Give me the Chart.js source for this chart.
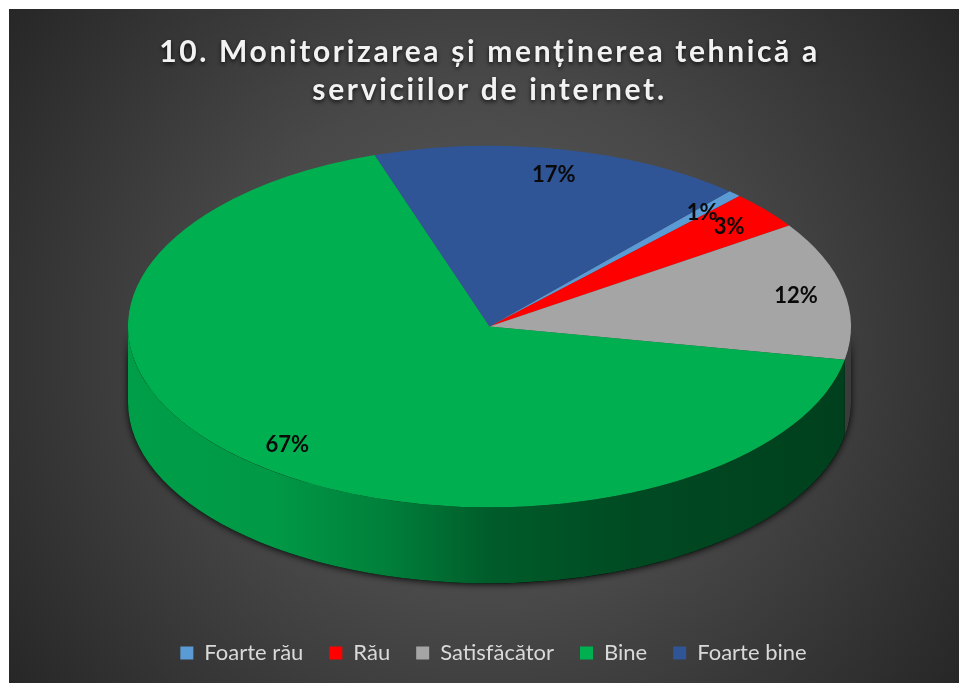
<!DOCTYPE html>
<html>
<head>
<meta charset="utf-8">
<title>Monitorizarea</title>
<script src="https://cdn.jsdelivr.net/npm/chart.js@4"></script>
<style>
  html, body { margin: 0; background: #fff; }
  #box { position: relative; width: 959px; height: 683px; }
</style>
</head>
<body>
<div id="box"><canvas id="myChart"></canvas></div>
<script>
const titleLines = ['10. Monitorizarea și menținerea tehnică a', 'serviciilor de internet.'];
const categories = ['Foarte rău', 'Rău', 'Satisfăcător', 'Bine', 'Foarte bine'];
const values = [0.6, 3.4, 12.4, 66.9, 16.7];
const colors = ['#5B9BD5', '#FF0000', '#A5A5A5', '#00B050', '#2F5597'];

// pie on screen: squashed to an ellipse, with a wall under it
const pieX = 489.5, pieY = 326.5, pieR = 361.5, squash = 0.5, wallH = 76;

function shade(hex, f) {
    const n = parseInt(hex.slice(1), 16);
    const r = Math.round((n >> 16 & 255) * f), g = Math.round((n >> 8 & 255) * f), b = Math.round((n & 255) * f);
    return `rgb(${r},${g},${b})`;
}

function wallPath(ctx, a0, a1) {
    const ry = pieR * squash;
    ctx.beginPath();
    ctx.ellipse(pieX, pieY, pieR, ry, 0, a0, a1);
    ctx.ellipse(pieX, pieY + wallH, pieR, ry, 0, a1, a0, true);
    ctx.closePath();
}

const pie3d = {
    id: 'pie3d',
    afterInit(chart) {
        // only the title gets the wide letter spacing and the shadow
        const t = chart.titleBlock, drawTitle = t.draw;
        t.draw = function () {
            const ctx = chart.ctx;
            ctx.save();
            ctx.letterSpacing = '2.65px';
            ctx.shadowColor = 'rgba(0,0,0,0.75)';
            ctx.shadowBlur = 4;
            ctx.shadowOffsetY = 2;
            drawTitle.call(t);
            ctx.restore();
        };
        // legend sits a little right of the title
        const l = chart.legend, drawLegend = l.draw;
        l.draw = function () {
            const ctx = chart.ctx;
            ctx.save();
            ctx.translate(4, 0);
            drawLegend.call(l);
            ctx.restore();
        };
    },
    beforeDraw(chart) {
        const ctx = chart.ctx;
        ctx.fillStyle = '#fff';
        ctx.fillRect(0, 0, chart.width, chart.height);
        const g = ctx.createRadialGradient(484, 346, 0, 484, 346, 590);
        g.addColorStop(0, '#5c5c5c');
        g.addColorStop(0.45, '#484848');
        g.addColorStop(1, '#262626');
        ctx.fillStyle = g;
        ctx.fillRect(9, 9, chart.width - 9, chart.height - 9);
    },
    beforeDatasetsDraw(chart) {
        const ctx = chart.ctx, arcs = chart.getDatasetMeta(0).data;

        // dark halo under the body
        ctx.save();
        ctx.shadowColor = 'rgba(0,0,0,0.9)';
        ctx.shadowBlur = 7;
        ctx.shadowOffsetY = 1;
        ctx.fillStyle = '#000';
        wallPath(ctx, 0, Math.PI);
        ctx.fill();
        ctx.restore();

        arcs.forEach((arc, i) => {
            const full = Math.PI * 2;
            const s = ((arc.startAngle % full) + full) % full;
            const e = s + (arc.endAngle - arc.startAngle);
            [0, full].forEach(base => {
                const a0 = Math.max(s, base), a1 = Math.min(e, base + Math.PI);
                if (a1 <= a0) return;
                const g = ctx.createLinearGradient(pieX - pieR, 0, pieX + pieR, 0);
                g.addColorStop(0, shade(colors[i], 0.9));
                g.addColorStop(0.2, shade(colors[i], 0.87));
                g.addColorStop(0.36, shade(colors[i], 0.72));
                g.addColorStop(0.5, shade(colors[i], 0.52));
                g.addColorStop(0.7, shade(colors[i], 0.42));
                g.addColorStop(1, shade(colors[i], 0.36));
                ctx.fillStyle = g;
                wallPath(ctx, a0, a1);
                ctx.fill();
            });
        });

        // the library's arcs get drawn through this transform
        const first = arcs[0];
        ctx.save();
        ctx.translate(pieX, pieY);
        ctx.scale(1, squash);
        ctx.translate(-first.x, -first.y);
    },
    afterDatasetsDraw(chart) {
        const ctx = chart.ctx, arcs = chart.getDatasetMeta(0).data;
        ctx.restore();
        const total = values.reduce((a, b) => a + b, 0);
        ctx.save();
        ctx.font = 'bold 22px Lato';
        ctx.fillStyle = '#0a0a0a';
        ctx.textAlign = 'center';
        ctx.textBaseline = 'middle';
        arcs.forEach((arc, i) => {
            const mid = (arc.startAngle + arc.endAngle) / 2;
            const x = pieX + 2 + Math.cos(mid) * pieR * 0.86;
            const y = pieY + 1 + Math.sin(mid) * pieR * squash * 0.86;
            ctx.fillText(Math.round(values[i] / total * 100) + '%', x, y);
        });
        ctx.restore();
    }
};

new Chart(document.getElementById('myChart'), {
    type: 'pie',
    data: {
        labels: categories,
        datasets: [{
            data: values,
            backgroundColor: colors,
            borderWidth: 0,
            clip: false
        }]
    },
    options: {
        responsive: true,
        maintainAspectRatio: false,
        animation: false,
        rotation: 41.6,
        radius: pieR,
        layout: { padding: { left: 20, right: 0, top: 34, bottom: 9 } },
        plugins: {
            tooltip: { enabled: false },
            title: {
                display: true,
                text: titleLines,
                color: '#f2f2f2',
                font: { family: 'Lato', weight: 'bold', size: 30, lineHeight: 1.25 },
                padding: 0
            },
            legend: {
                position: 'bottom',
                labels: {
                    color: '#d9d9d9',
                    font: { family: 'Lato', size: 22 },
                    boxWidth: 13,
                    boxHeight: 13,
                    padding: 26
                }
            }
        }
    },
    plugins: [pie3d]
});
</script>
</body>
</html>
